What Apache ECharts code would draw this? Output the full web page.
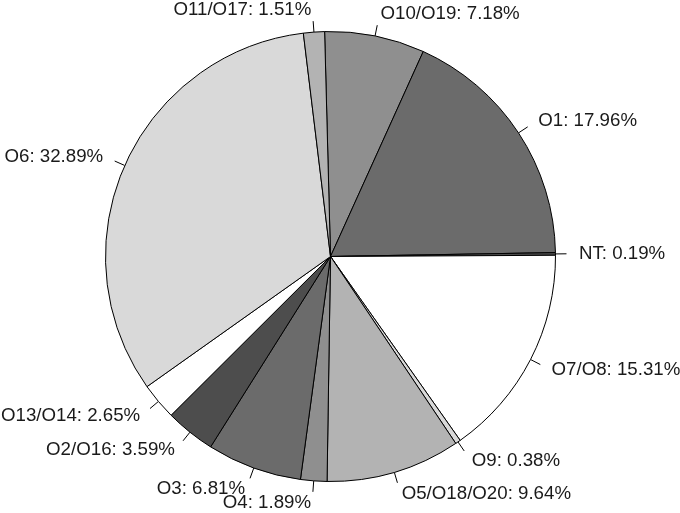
<!DOCTYPE html>
<html>
<head>
<meta charset="utf-8">
<script src="https://cdn.jsdelivr.net/npm/echarts@6/dist/echarts.min.js"></script>
<style>
  html, body { margin: 0; padding: 0; background: #fff; }
  #chart { width: 680px; height: 513px; }
</style>
</head>
<body>
<div id="chart"></div>
<script>
const names = ['O10/O19', 'O1', 'NT', 'O7/O8', 'O9', 'O5/O18/O20', 'O4', 'O3', 'O2/O16', 'O13/O14', 'O6', 'O11/O17'];
const shares = [7.18, 17.96, 0.19, 15.31, 0.38, 9.64, 1.89, 6.81, 3.59, 2.65, 32.89, 1.51];
const greys = ['#8f8f8f', '#6b6b6b', '#4d4d4d', '#ffffff', '#d9d9d9', '#b3b3b3'];

const chart = echarts.init(document.getElementById('chart'));

const pieData = names.map((n, i) => ({
  name: n,
  value: shares[i],
  itemStyle: { color: greys[i % greys.length] }
}));

// shared geometry
const base = {
  type: 'pie',
  center: [330.5, 256.5],
  radius: [0, 225],
  startAngle: 91.5,
  clockwise: true,
  avoidLabelOverlap: false,
  labelLayout: { hideOverlap: false },
  emphasis: { disabled: true },
  silent: true
};

chart.setOption({
  animation: false,
  series: [
    // slices + short leader ticks
    Object.assign({}, base, {
      data: pieData,
      itemStyle: { borderColor: '#000', borderWidth: 1 },
      label: { show: true, position: 'outside', formatter: ' ', color: 'transparent' },
      labelLine: { show: true, length: 11, length2: 0, lineStyle: { color: '#000', width: 1 } }
    }),
    // text labels placed a bit further out
    Object.assign({}, base, {
      data: pieData.map(d => ({ name: d.name, value: d.value })),
      itemStyle: { color: 'transparent', borderWidth: 0 },
      label: {
        show: true,
        position: 'outside',
        formatter: '{b}: {c}%',
        fontFamily: 'Liberation Sans, Arial, sans-serif',
        fontSize: 18.7,
        color: '#1a1a1a',
        padding: [4, 0, 0, 0],
        distanceToLabelLine: 1
      },
      labelLine: { show: false, length: 22.5, length2: 0 }
    })
  ]
});
</script>
</body>
</html>
